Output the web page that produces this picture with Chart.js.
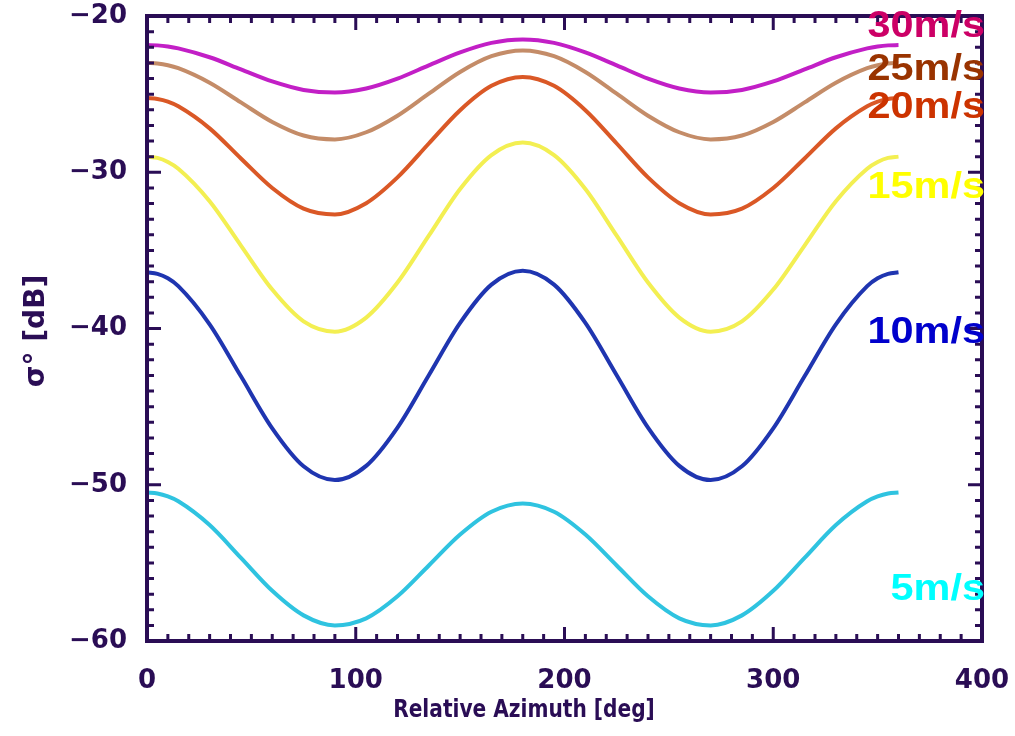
<!DOCTYPE html>
<html>
<head>
<meta charset="utf-8">
<script src="https://cdn.jsdelivr.net/npm/chart.js@4/dist/chart.umd.min.js"></script>
<style>
  body { margin: 0; background: #ffffff; }
  #chart { display: block; }
</style>
</head>
<body>
<canvas id="chart" width="1015" height="736"></canvas>
<script>
// relative azimuth [deg]; denser near both ends where the curves flatten out
const azimuth = [0, 5, 10, 15, 30, 45, 60, 75, 90, 105, 120, 135, 150, 165, 180,
                 195, 210, 225, 240, 255, 270, 285, 300, 315, 330, 345, 350, 355, 360];

// sigma0 [dB] for each wind speed
const sigma5 = [-50.50, -50.56, -50.75, -51.06, -52.58, -54.68, -56.79, -58.36, -59.00, -58.55, -57.14, -55.17, -53.19, -51.73, -51.20,
                -51.73, -53.19, -55.17, -57.14, -58.55, -59.00, -58.36, -56.79, -54.68, -52.58, -51.06, -50.75, -50.56, -50.50];
const sigma10 = [-36.40, -36.50, -36.79, -37.29, -39.73, -43.06, -46.39, -48.82, -49.70, -48.79, -46.34, -42.99, -39.64, -37.19, -36.30,
                 -37.19, -39.64, -42.99, -46.34, -48.79, -49.70, -48.82, -46.39, -43.06, -39.73, -37.29, -36.79, -36.50, -36.40];
const sigma15 = [-29.00, -29.08, -29.34, -29.77, -31.85, -34.69, -37.51, -39.54, -40.20, -39.30, -37.06, -34.06, -31.07, -28.90, -28.10,
                 -28.90, -31.07, -34.06, -37.06, -39.30, -40.20, -39.54, -37.51, -34.69, -31.85, -29.77, -29.34, -29.08, -29.00];
const sigma20 = [-25.25, -25.31, -25.48, -25.78, -27.19, -29.12, -31.01, -32.33, -32.70, -31.98, -30.33, -28.16, -26.03, -24.47, -23.90,
                 -24.47, -26.03, -28.16, -30.33, -31.98, -32.70, -32.33, -31.01, -29.12, -27.19, -25.78, -25.48, -25.31, -25.25];
const sigma25 = [-23.00, -23.04, -23.15, -23.34, -24.27, -25.53, -26.78, -27.65, -27.90, -27.44, -26.38, -24.97, -23.58, -22.57, -22.20,
                 -22.57, -23.58, -24.97, -26.38, -27.44, -27.90, -27.65, -26.78, -25.53, -24.27, -23.34, -23.15, -23.04, -23.00];
const sigma30 = [-21.86, -21.88, -21.95, -22.07, -22.64, -23.42, -24.19, -24.73, -24.90, -24.64, -24.01, -23.16, -22.33, -21.72, -21.50,
                 -21.72, -22.33, -23.16, -24.01, -24.64, -24.90, -24.73, -24.19, -23.42, -22.64, -22.07, -21.95, -21.88, -21.86];

const speedLabels = ['5m/s', '10m/s', '15m/s', '20m/s', '25m/s', '30m/s'];
const xTicks = [0, 100, 200, 300, 400];
const yTicks = [-60, -50, -40, -30, -20];

// styles
const lineColors = ['#2fc3e0', '#1f35b0', '#f3ef52', '#da5826', '#c48c68', '#c21fc6'];
const textColors = ['#00ffff', '#0000cc', '#ffff00', '#cc3300', '#993300', '#cc0066'];
const axisColor = '#2a0d55';

const allSeries = [sigma5, sigma10, sigma15, sigma20, sigma25, sigma30];

const datasets = allSeries.map(function (vals, i) {
    return {
        label: speedLabels[i],
        data: azimuth.map(function (a, k) { return { x: a, y: vals[k] }; }),
        borderColor: lineColors[i],
        borderWidth: 4,
        pointRadius: 0,
        fill: false,
        cubicInterpolationMode: 'monotone'
    };
});

// frame with inward ticks on all four sides, axis titles and speed labels
const framePlugin = {
    id: 'frame',
    afterDraw: function (chart) {
        const ctx = chart.ctx;
        const area = chart.chartArea;
        const xs = chart.scales.x;
        const ys = chart.scales.y;
        ctx.save();
        ctx.strokeStyle = axisColor;
        ctx.lineWidth = 4;
        ctx.strokeRect(area.left, area.top, area.right - area.left, area.bottom - area.top);

        ctx.lineWidth = 3;
        ctx.beginPath();
        for (let v = xs.min; v <= xs.max; v += 10) {
            const px = xs.getPixelForValue(v);
            const len = (v % 100 === 0) ? 14 : 7;
            ctx.moveTo(px, area.bottom); ctx.lineTo(px, area.bottom - len);
            ctx.moveTo(px, area.top); ctx.lineTo(px, area.top + len);
        }
        for (let v = ys.min; v <= ys.max; v += 1) {
            const py = ys.getPixelForValue(v);
            const len = (v % 10 === 0) ? 14 : 7;
            ctx.moveTo(area.left, py); ctx.lineTo(area.left + len, py);
            ctx.moveTo(area.right, py); ctx.lineTo(area.right - len, py);
        }
        ctx.stroke();

        // axis titles
        ctx.fillStyle = axisColor;
        ctx.textAlign = 'center';
        ctx.textBaseline = 'middle';
        ctx.save();
        ctx.translate(524, 711);
        ctx.scale(0.84, 1);
        ctx.font = 'bold 24px "DejaVu Sans"';
        ctx.fillText('Relative Azimuth [deg]', 0, 0);
        ctx.restore();
        ctx.save();
        ctx.translate(37, 331);
        ctx.rotate(-Math.PI / 2);
        ctx.font = 'bold 28px "DejaVu Sans"';
        ctx.fillText('\u03c3\u00b0 [dB]', 0, 0);
        ctx.restore();

        // wind speed labels at the right edge
        const baselines = [600, 343, 198, 118, 80, 37];
        ctx.font = 'bold 37px "Liberation Sans"';
        ctx.textAlign = 'right';
        ctx.textBaseline = 'alphabetic';
        speedLabels.forEach(function (t, i) {
            ctx.save();
            ctx.translate(985, baselines[i]);
            ctx.scale(1.12, 1);
            ctx.fillStyle = textColors[i];
            ctx.fillText(t, 0, 0);
            ctx.restore();
        });
        ctx.restore();
    }
};

new Chart(document.getElementById('chart'), {
    type: 'line',
    data: { datasets: datasets },
    options: {
        responsive: false,
        animation: false,
        layout: { padding: { left: 0, right: 33, top: 16, bottom: 0 } },
        plugins: {
            legend: { display: false },
            tooltip: { enabled: false }
        },
        scales: {
            x: {
                type: 'linear',
                min: 0,
                max: 400,
                afterBuildTicks: function (s) { s.ticks = xTicks.map(function (v) { return { value: v }; }); },
                afterFit: function (s) { s.height = 95; s.paddingLeft = 0; s.paddingRight = 0; },
                grid: { display: false },
                border: { display: false },
                ticks: {
                    padding: 17,
                    color: axisColor,
                    font: { family: 'DejaVu Sans', weight: 'bold', size: 26 },
                    maxRotation: 0
                }
            },
            y: {
                type: 'linear',
                min: -60,
                max: -20,
                afterBuildTicks: function (s) { s.ticks = yTicks.map(function (v) { return { value: v }; }); },
                afterFit: function (s) { s.width = 147; s.paddingTop = 0; s.paddingBottom = 0; },
                grid: { display: false },
                border: { display: false },
                ticks: {
                    padding: 12,
                    color: axisColor,
                    font: { family: 'DejaVu Sans', weight: 'bold', size: 26 },
                    callback: function (v) { return String(v).replace('-', '\u2212'); }
                }
            }
        }
    },
    plugins: [framePlugin]
});
</script>
</body>
</html>
